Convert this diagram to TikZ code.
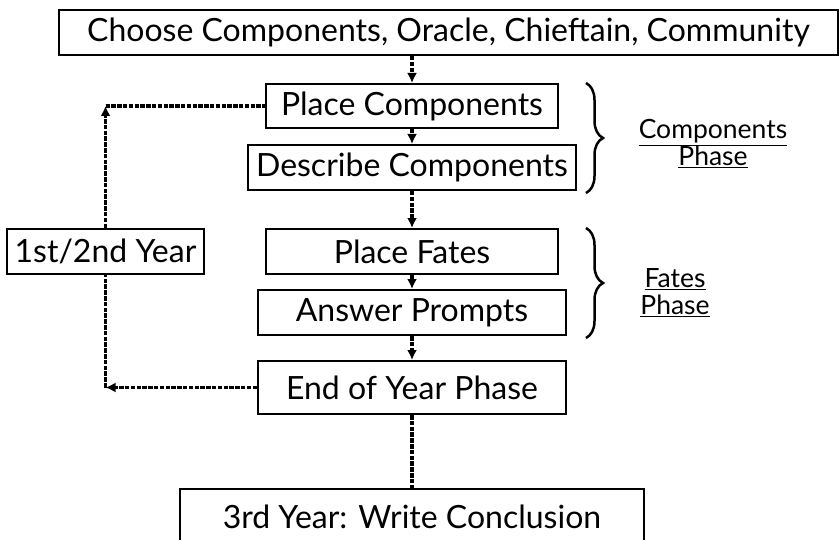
\documentclass[tikz,border=0pt]{standalone}
\usepackage{fontspec}
\setmainfont{Lato}
\usetikzlibrary{arrows.meta,positioning,decorations.pathreplacing}

\begin{document}
\begin{tikzpicture}[x=1pt, y=1pt, >={Latex[length=10pt,width=10pt]}, node distance=20pt]

%====Definizione stili================================================

	\tikzstyle{block}=[draw, line width=2pt, inner sep=0pt, minimum height=45pt, font=\fontsize{32}{36}\selectfont]
	\tikzstyle{flow}=[line width=3.2pt, dash pattern=on 4.5pt off 1.3pt]
	\tikzstyle{phase}=[align=center, font=\fontsize{26.5}{27}\selectfont]
	\tikzstyle{curly}=[line width=2.5pt, decorate, decoration={brace, amplitude=17pt}]

	\useasboundingbox (0,0) rectangle (840,539);

%====Definizione blocchi e posizione===========================================

	\node[block, minimum width=779pt]                      (choose)     at (448.5,506.5)          {Choose Components, Oracle, Chieftain, Community};
	\node[block, minimum width=292pt, minimum height=44pt] (placecomp)  at (412,433)              {Place Components};
	\node[block, minimum width=328pt]                      (describe)   [below=15pt of placecomp] {Describe Components};
	\node[block, minimum width=292pt]                      (placefates) [below=37pt of describe]  {Place Fates};
	\node[block, minimum width=308pt]                      (answer)     [below=14pt of placefates] {Answer Prompts};
	\node[block, minimum width=308pt, minimum height=53pt] (endyear)    [below=24pt of answer]    {End of Year Phase};
	\node[block, minimum width=464pt, minimum height=53pt, text height=30pt, text depth=5pt]
	                                                       (third)      [below=73pt of endyear]   {3rd Year: Write Conclusion};
	\node[block, minimum width=197pt]                      (year)       [left=60pt of placefates] {1st/2nd Year};

%====Fasi================================================================

	\coordinate (bracecomp) at (586,456);
	\coordinate (bracefates) at (586,311);
	\draw[curly] (bracecomp) -- ++(0,-110);
	\draw[curly] (bracefates) -- ++(0,-110);
	\node[phase] (compphase)  at (713,395) {\underline{Components}\\\underline{Phase}};
	\node[phase] (fatesphase) at (675,246) {\underline{Fates}\\\underline{Phase}};

%====Collegamenti================================================================

	\coordinate (upcorner)  at (year.north |- placecomp.west);
	\coordinate (lowcorner) at (year.south |- endyear.west);

	\draw[flow,->] (choose.south -| placecomp.north) -- (placecomp.north);
	\draw[flow,->] (placecomp) -- (describe);
	\draw[flow,->] (describe) -- (placefates);
	\draw[flow,->] (placefates) -- (answer);
	\draw[flow,->] (answer) -- (endyear);
	\draw[flow]    (endyear) -- (third);
	\draw[flow,->] (endyear.west) -- (lowcorner);
	\draw[flow]    (lowcorner) -- (year.south);
	\draw[flow,->] (year.north) -- (upcorner);
	\draw[flow]    (upcorner) -- (placecomp.west);
\end{tikzpicture}
\end{document}
